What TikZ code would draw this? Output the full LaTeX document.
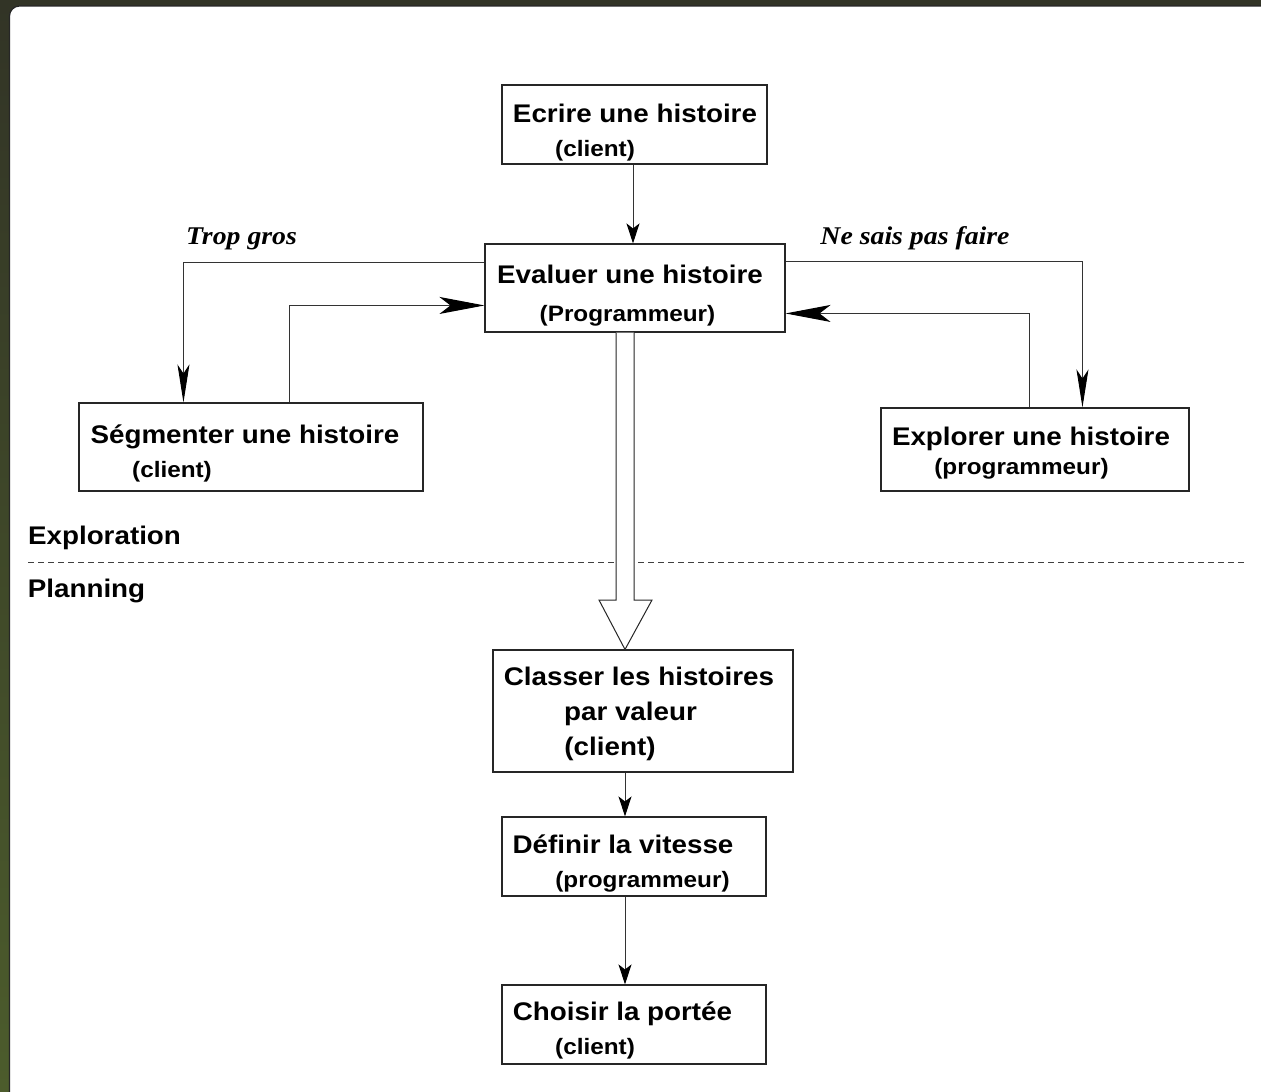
\documentclass[tikz,border=0pt]{standalone}
\usepackage{fontspec}
\setmainfont{Liberation Sans}[FakeStretch=1.09]
\newfontfamily\labfont{Liberation Serif}[FakeStretch=1.09]
\usetikzlibrary{arrows.meta,calc}
\definecolor{frametop}{RGB}{50,52,38}
\definecolor{framebot}{RGB}{76,92,44}
\tikzset{
  box/.style={draw=black!85, line width=1.1pt, rectangle, inner sep=0pt, fill=white},
  big/.style={font=\bfseries\fontsize{25.5}{29}\selectfont, inner sep=0pt, anchor=base},
  small/.style={font=\bfseries\fontsize{22.3}{26}\selectfont, inner sep=0pt, anchor=base},
  lab/.style={font=\labfont\bfseries\itshape\fontsize{25.5}{29}\selectfont, inner sep=0pt, anchor=base},
  conn/.style={draw=black!80, line width=1pt},
  sarrow/.style={conn, -{Stealth[length=20pt,width=13pt,inset=5pt,color=black]}},
  bigv/.style={conn, -{Stealth[length=38pt,width=12pt,inset=9pt,color=black]}},
  bigh/.style={conn, -{Stealth[length=45pt,width=17pt,inset=11pt,color=black]}},
  hollow/.style={draw=black!85, line width=1pt, fill=white, line join=miter},
}
\begin{document}
\begin{tikzpicture}[x=1pt,y=-1pt]
\useasboundingbox (0,0) rectangle (1261,1092);
\clip (0,0) rectangle (1261,1092);
\shade[top color=frametop, bottom color=framebot] (0,0) rectangle (1261,1092);
\filldraw[fill=white, draw=black!85, line width=1.2pt, rounded corners=10pt] (9.5,6) rectangle (1300,1140);

% boxes
\node[box, minimum width=265pt, minimum height=79pt] (ecrire) at (634.5,124.5) {};
\node[box, minimum width=300pt, minimum height=88pt] (evaluer) at (635,288) {};
\node[box, minimum width=344pt, minimum height=88pt] (segment) at (251,447) {};
\node[box, minimum width=308pt, minimum height=83pt] (explorer) at (1035,449.5) {};
\node[box, minimum width=300pt, minimum height=122pt] (classer) at (643,711) {};
\node[box, minimum width=264pt, minimum height=79pt] (definir) at (634,856.5) {};
\node[box, minimum width=264pt, minimum height=79pt] (choisir) at (634,1024.5) {};

% texts
\node[big] (t1a) at (635,122) {Ecrire une histoire};
\node[small] (t1b) at (595,156) {(client)};
\node[big] (t2a) at (630,283) {Evaluer une histoire};
\node[small] (t2b) at (627.5,321) {(Programmeur)};
\node[big] (t3a) at (245,443.5) {Ségmenter une histoire};
\node[small] (t3b) at (172,477.5) {(client)};
\node[big] (t4a) at (1031,445) {Explorer une histoire};
\node[small] (t4b) at (1021.5,474) {(programmeur)};
\node[big] (t5a) at (639,685) {Classer les histoires};
\node[big] (t5b) at (630.5,720) {par valeur};
\node[big] (t5c) at (610,755.5) {(client)};
\node[big] (t6a) at (623,853) {Définir la vitesse};
\node[small] (t6b) at (642.5,887) {(programmeur)};
\node[big] (t7a) at (622.5,1020) {Choisir la portée};
\node[small] (t7b) at (595,1054) {(client)};

\node[lab] (trop) at (241.5,244) {Trop gros};
\node[lab] (nesais) at (915,244) {Ne sais pas faire};
\node[big] (explo) at (104.5,544) {Exploration};
\node[big] (plan) at (86.5,597) {Planning};

% separator
\coordinate (sepl) at (28,562);
\coordinate (sepr) at (1245,562);
\draw[black!75, line width=0.9pt, dash pattern=on 6pt off 4pt] (sepl) -- (sepr);

% connectors
\draw[sarrow] ([xshift=-1.5pt]ecrire.south) -- ([xshift=-1.5pt]ecrire.south |- evaluer.north);
\draw[bigv] ([yshift=-19pt]evaluer.north west) -| ([xshift=105pt]segment.north west);
\draw[bigh] ([xshift=211pt]segment.north west) |- ([yshift=-62pt]evaluer.north west);
\draw[bigv] ([yshift=-18pt]evaluer.north east) -| ([xshift=202pt]explorer.north west);
\draw[bigh] ([xshift=149pt]explorer.north west) |- ([yshift=-70pt]evaluer.north east);

% hollow arrow
\coordinate (hl) at ([xshift=-19pt]evaluer.south);
\coordinate (hr) at ([xshift=-1pt]evaluer.south);
\coordinate (ht) at ([xshift=-18pt]classer.north);
\draw[hollow] (hl) -- (hl |- 0,600) -- (599,600) -- (ht) -- (652,600) -- (hr |- 0,600) -- (hr);

\draw[sarrow] ([xshift=-18pt]classer.south) -- ([xshift=-18pt]classer.south |- definir.north);
\draw[sarrow] ([xshift=-9pt]definir.south) -- ([xshift=-9pt]choisir.north);
\end{tikzpicture}
\end{document}
